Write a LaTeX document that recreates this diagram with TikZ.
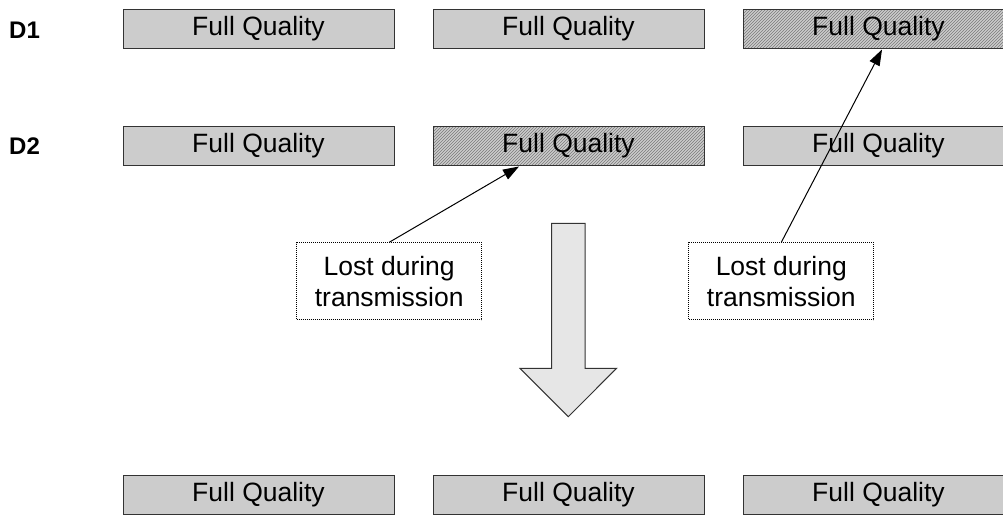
\documentclass[tikz,border=0pt]{standalone}
\usepackage{fontspec}
\setmainfont{Liberation Sans}
\usetikzlibrary{arrows.meta,patterns,calc}

\definecolor{boxgray}{HTML}{CCCCCC}
\definecolor{hatchgray}{HTML}{7A7A7A}
\definecolor{arrowgray}{HTML}{E6E6E6}
\definecolor{edgegray}{HTML}{333333}

\tikzset{
  qbox/.style={draw=edgegray, line width=1pt, fill=boxgray,
    minimum width=271pt, minimum height=39pt, inner sep=0pt,
    font=\fontsize{26.5}{31}\selectfont},
  lostbox/.style={qbox, fill=none,
    preaction={fill=boxgray},
    pattern=north east lines, pattern color=hatchgray},
  rowlabel/.style={font=\fontsize{24}{28}\selectfont\bfseries, anchor=west, inner sep=0pt},
  note/.style={draw=black, line width=1pt, dash pattern=on 1pt off 1pt,
    minimum width=185pt, minimum height=77pt, inner sep=0pt, align=center,
    font=\fontsize{26.5}{31}\selectfont},
  pointer/.style={draw=black, line width=1pt, -{Triangle[length=16pt,width=11pt]}},
  bigarrow/.style={draw=edgegray, line width=1pt, fill=arrowgray, line join=miter}
}

\begin{document}
\begin{tikzpicture}[x=1pt,y=-1pt]
  \useasboundingbox (0,0) rectangle (1003,514);
  \clip (0,0) rectangle (1003,514);

  % row labels
  \node[rowlabel] (l1) at (9,30) {D1};
  \node[rowlabel] (l2) at (9,146.5) {D2};

  % stream D1
  \node[qbox]    (b11) at (258.5,29) {Full Quality};
  \node[qbox]    (b12) at (568.5,29) {Full Quality};
  \node[lostbox] (b13) at (878.5,29) {Full Quality};

  % stream D2
  \node[qbox]    (b21) at (258.5,145.5) {Full Quality};
  \node[lostbox] (b22) at (568.5,145.5) {Full Quality};
  \node[qbox]    (b23) at (878.5,145.5) {Full Quality};

  % recovered stream
  \node[qbox] (b31) at (258.5,494.5) {Full Quality};
  \node[qbox] (b32) at (568.5,494.5) {Full Quality};
  \node[qbox] (b33) at (878.5,494.5) {Full Quality};

  % loss annotations
  \node[note] (n1) at (389.2,281.3) {Lost during\\transmission};
  \node[note] (n2) at (781.3,281.3) {Lost during\\transmission};

  \coordinate (t1) at ($(b22.south)+(-49.5,1)$);
  \coordinate (t2) at ($(b13.south)+(3.5,0.5)$);
  \draw[pointer] (n1.north) -- (t1);
  \draw[pointer] (n2.north) -- (t2);

  % merge arrow
  \draw[bigarrow] (551.7,223.3) -- (585,223.3) -- (585,368.3) -- (616.6,368.3)
    -- (568.3,416.7) -- (520,368.3) -- (551.7,368.3) -- cycle;
\end{tikzpicture}
\end{document}
